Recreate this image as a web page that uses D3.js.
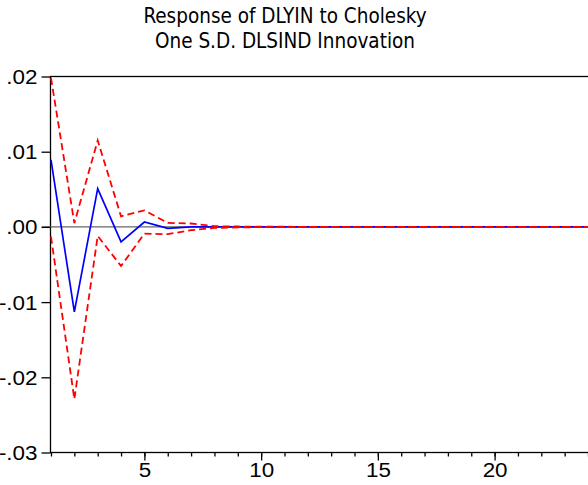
<!DOCTYPE html>
<meta charset="utf-8">
<head>
<title>Response of DLYIN to Cholesky One S.D. DLSIND Innovation</title>
<style>
  body { margin: 0; background: white; }
</style>
</head>
<body>
<div id="chart1"></div>
<script src="https://d3js.org/d3.v7.min.js"></script>
<script>

// impulse response periods 1..24
var steps = [1,2,3,4,5,6,7,8,9,10,11,12,13,14,15,16,17,18,19,20,21,22,23,24];
var response = [0.0089, -0.0113, 0.0051, -0.0020, 0.00065, -0.0002, 0.0000, 0.0000,
                0, 0, 0, 0, 0, 0, 0, 0, 0, 0, 0, 0, 0, 0, 0, 0];
var upper = [0.0198, 0.0005, 0.0115, 0.0014, 0.0022, 0.00053, 0.00045, 0.0001,
             0.00005, 0.00003, 0.00002, 0.00001, 0.00001, 0, 0, 0, 0, 0, 0, 0, 0, 0, 0, 0];
var lower = [-0.0013, -0.0229, -0.0012, -0.0052, -0.0009, -0.00097, -0.00044, -0.00013,
             -0.00006, -0.00003, -0.00002, -0.00001, -0.00001, 0, 0, 0, 0, 0, 0, 0, 0, 0, 0, 0];
var yTicks = [0.02, 0.01, 0.00, -0.01, -0.02, -0.03];
var yTickLabels = [".02", ".01", ".00", "-.01", "-.02", "-.03"];
var xMajor = [5, 10, 15, 20];
var titleLines = ["Response of DLYIN to Cholesky", "One S.D. DLSIND Innovation"];

var width = 588, height = 485;
var labelFont = "Liberation Sans, Arial, sans-serif";

var svg = d3.select("#chart1")
  .append("svg")
    .attr("width", width)
    .attr("height", height);

var x = d3.scaleLinear()
  .domain([1, 24])
  .range([51, 588]);

var y = d3.scaleLinear()
  .domain([-0.03, 0.02])
  .range([452.5, 76.5]);

// labels in the original look a bit wide, stretch them
function widen(sel) {
  sel.each(function() {
    var w = this.getComputedTextLength();
    d3.select(this)
      .attr("textLength", w * 1.12)
      .attr("lengthAdjust", "spacingAndGlyphs");
  });
}

// frame
svg.append("rect")
  .attr("x", 50.5)
  .attr("y", y(0.02))
  .attr("width", 540)
  .attr("height", y(-0.03) - y(0.02))
  .attr("fill", "none")
  .attr("stroke", "black")
  .attr("stroke-width", 1.3);

// zero line
svg.append("line")
  .attr("x1", 42).attr("x2", width)
  .attr("y1", y(0)).attr("y2", y(0))
  .attr("stroke", "#666")
  .attr("stroke-width", 1.3);

// x axis: minor ticks every step, labels at 5,10,15,20
var xAxis = svg.append("g")
  .attr("transform", "translate(0," + y(-0.03) + ")")
  .call(d3.axisBottom(x).tickValues(steps).tickSize(4).tickFormat(""));
xAxis.select(".domain").remove();
xAxis.selectAll("line").attr("stroke", "black").attr("stroke-width", 1.3);

var xAxisMajor = svg.append("g")
  .attr("transform", "translate(0," + y(-0.03) + ")")
  .call(d3.axisBottom(x).tickValues(xMajor).tickSize(8).tickPadding(2).tickFormat(d3.format("d")));
xAxisMajor.select(".domain").remove();
xAxisMajor.selectAll("line").attr("stroke", "black").attr("stroke-width", 1.3);
xAxisMajor.selectAll("text")
  .attr("fill", "black")
  .style("font-family", labelFont)
  .style("font-size", "20px")
  .call(widen);

// y axis
var yAxis = svg.append("g")
  .attr("transform", "translate(50.5,0)")
  .call(d3.axisLeft(y).tickValues(yTicks).tickSize(9).tickPadding(4)
    .tickFormat(function(d, i) { return yTickLabels[i]; }));
yAxis.select(".domain").remove();
yAxis.selectAll("line").attr("stroke", "black").attr("stroke-width", 1.3);
yAxis.selectAll("text")
  .attr("fill", "black")
  .attr("dy", "0.35em")
  .style("font-family", labelFont)
  .style("font-size", "20px")
  .call(widen);

var line = d3.line()
  .x(function(d, i) { return x(steps[i]); })
  .y(function(d) { return y(d); });

svg.append("path")
  .datum(response)
  .attr("fill", "none")
  .attr("stroke", "#0000ff")
  .attr("stroke-width", 1.7)
  .attr("d", line);

svg.append("path")
  .datum(upper)
  .attr("fill", "none")
  .attr("stroke", "#ff0000")
  .attr("stroke-width", 1.8)
  .attr("stroke-dasharray", "7,4")
  .attr("d", line);

svg.append("path")
  .datum(lower)
  .attr("fill", "none")
  .attr("stroke", "#ff0000")
  .attr("stroke-width", 1.8)
  .attr("stroke-dasharray", "7,4")
  .attr("d", line);

// title
svg.selectAll(".title")
  .data(titleLines)
  .enter().append("text")
    .attr("class", "title")
    .attr("x", 285)
    .attr("y", function(d, i) { return 23 + i * 25; })
    .attr("text-anchor", "middle")
    .style("font-family", "DejaVu Sans Condensed, DejaVu Sans, sans-serif")
    .style("font-size", "20.5px")
    .attr("fill", "black")
    .text(function(d) { return d; });

</script>
</body>
